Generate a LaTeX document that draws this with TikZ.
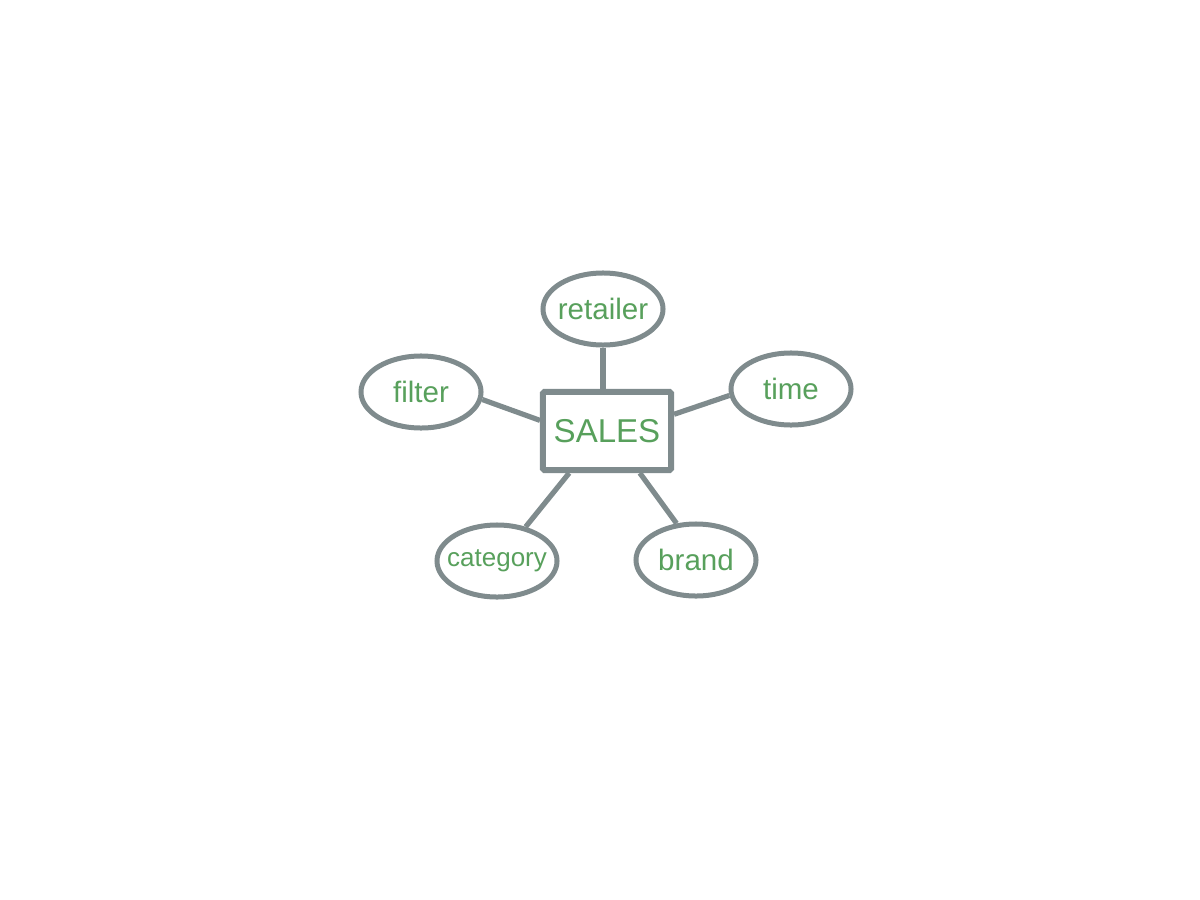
\documentclass[tikz,border=0pt]{standalone}
\usepackage{fontspec}
\setmainfont{Liberation Sans}
\usepackage{xcolor}
\usepackage{tikz}
\usetikzlibrary{shapes.geometric,positioning}
\definecolor{linegray}{RGB}{127,139,141}
\definecolor{labelgreen}{RGB}{88,160,92}
\newcommand{\attrlabel}[1]{\makebox[0pt]{#1}}

\begin{document}
\begin{tikzpicture}[
    x=0.025cm, y=-0.025cm,
    every node/.style={align=center, text=labelgreen},
    entity/.style={draw=linegray, line width=0.15cm, rounded corners=1pt,
        minimum width=3.2cm, minimum height=1.95cm, font=\fontsize{23.5}{26}\selectfont},
    attrib/.style={ellipse, draw=linegray, line width=0.125cm,
        minimum width=3.0cm, minimum height=1.8cm, font=\fontsize{21}{24}\selectfont},
    link/.style={draw=linegray, line width=0.13cm}
]
\useasboundingbox (0,0) rectangle (1200,899);

% entity
\node[entity] (sales) at (607,431) {SALES};

% attributes
\node[attrib] (retailer) at (603,309) {\attrlabel{retailer}};
\node[attrib] (filter)   at (421,392) {\attrlabel{filter}};
\node[attrib] (time)     at (791,389) {\attrlabel{time}};
\node[attrib, font=\fontsize{18.5}{21}\selectfont] (category) at (497,561) {\attrlabel{category}};
\node[attrib] (brand)    at (696,560) {\attrlabel{brand}};

% links
\draw[link] (retailer.south) -- (retailer.south |- sales.north);
\draw[link] (filter.-7) -- (sales.171);
\draw[link] (time.186) -- (sales.14);
\draw[link] (category.50) -- (sales.228);
\draw[link] (brand.118) -- (sales.-52);
\end{tikzpicture}
\end{document}
